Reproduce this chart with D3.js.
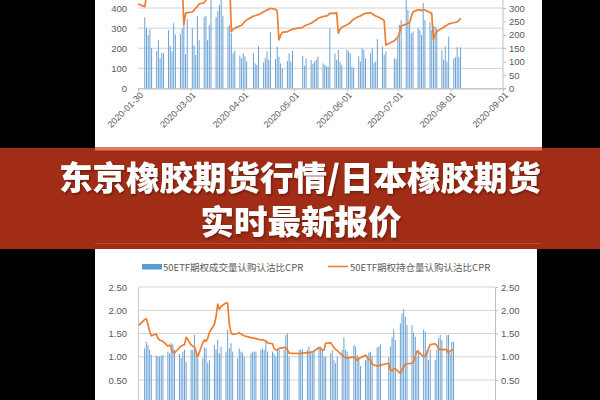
<!DOCTYPE html>
<html><head><meta charset="utf-8">
<script src="https://cdn.jsdelivr.net/npm/d3@7"></script>
<style>html,body{margin:0;padding:0;background:#000;}svg{display:block;}</style>
</head><body>
<svg id="c" width="600" height="400"></svg>
<script>
// ---------- DATA ----------
const title1 = "东京橡胶期货行情/日本橡胶期货";
const title2 = "实时最新报价";
const legendBar = "50ETF期权成交量认购认沽比CPR";
const legendLine = "50ETF期权持仓量认购认沽比CPR";

// trading days (2020), first entry is the axis start (line only)
const tradingDays = ["01-30",
 "02-03","02-04","02-05","02-06","02-07","02-10","02-11","02-12","02-13","02-14","02-17","02-18","02-19","02-20","02-21","02-24","02-25","02-26","02-27","02-28",
 "03-02","03-03","03-04","03-05","03-06","03-09","03-10","03-11","03-12","03-13","03-16","03-17","03-18","03-19","03-20","03-23","03-24","03-25","03-26","03-27","03-30","03-31",
 "04-01","04-02","04-03","04-07","04-08","04-09","04-10","04-13","04-14","04-15","04-16","04-17","04-20","04-21","04-22","04-23","04-24","04-27","04-28","04-29","04-30",
 "05-06","05-07","05-08","05-11","05-12","05-13","05-14","05-15","05-18","05-19","05-20","05-21","05-22","05-25","05-26","05-27","05-28","05-29",
 "06-01","06-02","06-03","06-04","06-05","06-08","06-09","06-10","06-11","06-12","06-15","06-16","06-17","06-18","06-19","06-22","06-23","06-24","06-29","06-30",
 "07-01","07-02","07-03","07-06","07-07","07-08","07-09","07-10","07-13","07-14","07-15","07-16","07-17","07-20","07-21","07-22","07-23","07-24","07-27","07-28","07-29","07-30","07-31",
 "08-03","08-04","08-05","08-06","08-07"];

const topTicks = ["2020-01-30","2020-03-01","2020-04-01","2020-05-01","2020-06-01","2020-07-01","2020-08-01","2020-09-01"];
const topLeftTicks = [0,100,200,300,400];
const topRightTicks = [0,50,100,150,200,250,300];
const botTicks = [0,0.5,1,1.5,2,2.5];

// top chart bars (left axis)
const topBars = [null,
 354,300,265,295,200, 185,240,150,178,175, 290,210,185,325,270, 270,300,310,170,345,
 300,215,167,360,240, 355,360,240,315,445, 355,385,415,450,360, 308,316,275,175,188, 165,150,
 175,160,135, 175,125,118,210, 130,150,185,142,280, 146,208,158,125,100, 137,175,134,188,
 162,113,150, 142,123,134,142,158, 125,118,110,108,300, 175,142,192,134,118,
 192,184,175,109,101, 160,134,200,192,150, 175,200,126,134,245, 208,167,184, 150,145,
 250,316,340, 460,390,325,275,283, 300,290,265,424,340, 330,290,308,310,300, 192,142,208,134,258,
 150,155,205,158,205];

// top chart line (right axis)
const topLine = [315,
 305,345,355,360,365, 370,372,375,378,380, 385,388,390,392,395, 398,400,237,280,283,
 285,292,300,305,315, 320,330,340,345,350, 360,370,375,380,385, 390,395,212,221,225, 233,235,
 243,250,255, 270,271,274,275, 286,289,293,295,299, 295,289,181,199,209, 212,215,218,221,
 228,233,236, 243,247,253,255,262, 268,270,270,274,280, 280,283,206,221,228,
 237,241,245,253,258, 268,270,274,278,280, 283,278,274,270,268, 258,253,162, 178,185,
 191,206,233, 240,243,245,268,286, 293,293,290,293,293, 283,280,183,200,212, 224,228,233,236,241,
 245,247,248,253,262];

// bottom chart bars
const botBars = [null,
 1.18,1.32,1.25,1.15,1.04, 1.02,1.02,1.00,1.02,1.04, 1.11,1.07,1.29,1.27,1.15, 1.06,0.97,1.11,1.15,0.89,
 1.15,1.15,1.47,1.11,0.97, 0.97,1.20,1.18,0.87,0.93, 1.25,1.16,1.37,1.07,1.22, 1.11,1.58,1.18,1.29,1.11, 0.97,1.18,
 1.11,1.09,1.00, 1.07,1.11,1.11,1.11, 1.15,1.18,1.15,1.36,1.11, 1.11,1.07,1.00,1.15,1.15, 1.15,1.47,1.50,1.00,
 1.15,1.15,1.16, 1.15,1.22,1.11,1.07,1.15, 1.20,1.22,1.15,1.00,1.00, 1.07,1.15,0.93,0.86,1.00,
 1.15,1.42,1.15,1.11,1.00, 1.25,1.22,1.04,1.00,0.80, 0.93,1.02,1.09,1.11,1.02, 1.20,1.22,1.27, 1.00,1.22,
 1.42,1.59,1.36, 1.72,1.93,2.02,1.86,1.68, 1.68,1.52,1.43,1.00,1.15, 1.58,1.54,1.15,0.93,1.15, 0.93,1.15,1.40,1.47,1.36,
 1.47,1.47,1.07,1.32,1.32];

// bottom chart line
const botLine = [1.66,
 1.80,1.82,1.70,1.55,1.45, 1.49,1.40,1.36,1.35,1.33, 1.23,1.25,1.20,1.10,1.08, 1.20,1.23,1.25,1.26,1.42,
 1.26,1.22,1.22,1.10,1.00, 1.30,1.36,1.33,1.40,1.52, 1.70,1.86,2.13,2.02,2.08, 2.16,2.15,1.70,1.52,1.48, 1.50,1.52,
 1.49,1.47,1.45, 1.41,1.40,1.40,1.39, 1.36,1.37,1.35,1.34,1.30, 1.28,1.17,1.15,1.15,1.18, 1.20,1.19,1.15,1.08,
 1.07,1.07,1.08, 1.09,1.08,1.10,1.10,1.12, 1.20,1.18,1.15,1.14,1.29, 1.30,1.25,1.20,1.16,1.13,
 1.03,1.00,0.98,0.97,0.98, 0.99,0.97,0.92,0.96,0.98, 1.03,1.00,0.95,0.92,0.84, 0.80,0.81,0.82, 0.86,0.72,
 0.70,0.74,0.74, 0.64,0.72,0.78,0.84,0.85, 0.86,0.90,1.00,1.12,1.10, 1.00,1.03,1.06,1.18,1.26, 1.28,1.24,1.17,1.15,1.16,
 1.15,1.08,1.12,1.15,1.15];

// ---------- DRAW ----------
const parse = d3.timeParse("%Y-%m-%d");
const dates = tradingDays.map(d => parse("2020-" + d));
const svg = d3.select("#c");
const numFont = "'Liberation Sans', Arial, sans-serif";
const cjkFont = "'Noto Sans CJK SC', sans-serif";
const axisCol = "#595959";
const barCol = "#6aa2d4";

svg.append("rect").attr("width",600).attr("height",400).attr("fill","#000");

// panels
svg.append("rect").attr("x",95).attr("y",0).attr("width",447).attr("height",148).attr("fill","#fff");
svg.append("rect").attr("x",95).attr("y",249).attr("width",442).attr("height",151).attr("fill","#fff");

const defs = svg.append("defs");
defs.append("clipPath").attr("id","clipTop").append("rect").attr("x",95).attr("y",0).attr("width",447).attr("height",148);
defs.append("clipPath").attr("id","clipBot").append("rect").attr("x",95).attr("y",249).attr("width",442).attr("height",151);

// ===== top chart =====
const gT = svg.append("g").attr("clip-path","url(#clipTop)");
const xT = d3.scaleTime().domain([parse(topTicks[0]), parse(topTicks[topTicks.length-1])]).range([138,503]);
const yTL = d3.scaleLinear().domain([0,400]).range([88.5,8]);
const yTR = d3.scaleLinear().domain([0,300]).range([88.5,8]);

gT.selectAll(".gt").data(topLeftTicks.concat([500])).join("line")
  .attr("x1",138).attr("x2",503).attr("y1",d=>yTL(d)).attr("y2",d=>yTL(d))
  .attr("stroke","#c8c8c8").attr("stroke-width",0.8);

const tb = dates.map((d,i)=>({d, v: topBars[i]})).filter(o=>o.v!=null);
gT.selectAll(".tb").data(tb).join("rect")
  .attr("x",o=>xT(o.d)-0.5).attr("width",1)
  .attr("y",o=>yTL(o.v)).attr("height",o=>yTL(0)-yTL(o.v))
  .attr("fill",barCol);

gT.append("path").datum(dates.map((d,i)=>({d, v: topLine[i]})))
  .attr("fill","none").attr("stroke","#ed7d31").attr("stroke-width",1.7)
  .attr("stroke-linejoin","round")
  .attr("d", d3.line().x(o=>xT(o.d)).y(o=>yTR(o.v)));

// axes
const axT = gT.append("g").attr("transform","translate(0,88.5)")
  .call(d3.axisBottom(xT).tickValues(topTicks.map(parse)).tickSize(3).tickFormat(d3.timeFormat("%Y-%m-%d")));
axT.select(".domain").attr("stroke","#bfbfbf");
axT.selectAll(".tick line").attr("stroke","#bfbfbf");
axT.selectAll(".tick text").attr("font-family",numFont).attr("font-size",9).attr("fill",axisCol)
  .attr("text-anchor","end").attr("transform","translate(3,5) rotate(-45)").attr("dy","0.35em").attr("y",0).attr("x",0);

const alT = gT.append("g").attr("transform","translate(138,0)")
  .call(d3.axisLeft(yTL).tickValues(topLeftTicks).tickSize(0).tickPadding(11));
alT.select(".domain").remove();
alT.selectAll("text").attr("font-family",numFont).attr("font-size",9.5).attr("fill",axisCol);

const arT = gT.append("g").attr("transform","translate(503,0)")
  .call(d3.axisRight(yTR).tickValues(topRightTicks).tickSize(3).tickPadding(3));
arT.select(".domain").attr("stroke","#bfbfbf").attr("d","M3,88.5H0V-20");
arT.selectAll(".tick line").attr("stroke","#bfbfbf");
arT.selectAll("text").attr("font-family",numFont).attr("font-size",9.5).attr("fill",axisCol);

// ===== banner =====
svg.append("rect").attr("x",0).attr("y",148).attr("width",600).attr("height",101).attr("fill","#a22d16");
svg.append("rect").attr("x",95).attr("y",147).attr("width",447).attr("height",3.5).attr("fill","#e07a62");
svg.append("line").attr("x1",95).attr("x2",541).attr("y1",243.5).attr("y2",243.5).attr("stroke","#b84a34").attr("stroke-width",1);
const sh = defs.append("filter").attr("id","sh").attr("x","-10%").attr("y","-10%").attr("width","120%").attr("height","130%");
sh.append("feDropShadow").attr("dx",1).attr("dy",1.5).attr("stdDeviation",1).attr("flood-color","#3a0a00").attr("flood-opacity",0.6);
const tg = svg.append("g").attr("filter","url(#sh)");
tg.append("text").attr("x",300).attr("y",190).attr("text-anchor","middle")
  .attr("font-family",cjkFont).attr("font-weight",900).attr("font-size",33.5).attr("fill","#fff").text(title1);
tg.append("text").attr("x",301).attr("y",234).attr("text-anchor","middle")
  .attr("font-family",cjkFont).attr("font-weight",900).attr("font-size",33.5).attr("fill","#fff").text(title2);

// ===== bottom chart =====
const gB = svg.append("g").attr("clip-path","url(#clipBot)");
const xB = d3.scaleTime().domain([parse(topTicks[0]), parse(topTicks[topTicks.length-1])]).range([138,495]);
const yB = d3.scaleLinear().domain([0,2.5]).range([403.25,287]);

gB.selectAll(".gb").data(botTicks).join("line")
  .attr("x1",138).attr("x2",495).attr("y1",d=>yB(d)).attr("y2",d=>yB(d))
  .attr("stroke","#c8c8c8").attr("stroke-width",0.8);

const bb = dates.map((d,i)=>({d, v: botBars[i]})).filter(o=>o.v!=null);
gB.selectAll(".bb").data(bb).join("rect")
  .attr("x",o=>xB(o.d)-0.5).attr("width",1)
  .attr("y",o=>yB(o.v)).attr("height",o=>yB(0)-yB(o.v))
  .attr("fill",barCol);

gB.append("path").datum(dates.map((d,i)=>({d, v: botLine[i]})))
  .attr("fill","none").attr("stroke","#ed7d31").attr("stroke-width",1.7)
  .attr("stroke-linejoin","round")
  .attr("d", d3.line().x(o=>xB(o.d)).y(o=>yB(o.v)));

const alB = gB.append("g").attr("transform","translate(138,0)")
  .call(d3.axisLeft(yB).tickValues(botTicks).tickSize(0).tickPadding(11).tickFormat(d3.format(".2f")));
alB.select(".domain").attr("stroke","#c8c8c8");
alB.selectAll("text").attr("font-family",numFont).attr("font-size",9.5).attr("fill",axisCol);

const arB = gB.append("g").attr("transform","translate(495,0)")
  .call(d3.axisRight(yB).tickValues(botTicks).tickSize(3).tickPadding(3).tickFormat(d3.format(".2f")));
arB.select(".domain").attr("stroke","#bfbfbf");
arB.selectAll(".tick line").attr("stroke","#bfbfbf");
arB.selectAll("text").attr("font-family",numFont).attr("font-size",9.5).attr("fill",axisCol);

// legend
svg.append("rect").attr("x",142).attr("y",264).attr("width",20).attr("height",5.5).attr("fill","#5b9bd5");
svg.append("text").attr("x",163).attr("y",270.5).attr("font-family",cjkFont).attr("font-size",9.5).attr("fill",axisCol).text(legendBar);
svg.append("line").attr("x1",328).attr("x2",348).attr("y1",266.5).attr("y2",266.5).attr("stroke","#ed7d31").attr("stroke-width",1.6);
svg.append("text").attr("x",350).attr("y",270.5).attr("font-family",cjkFont).attr("font-size",9.5).attr("fill",axisCol).text(legendLine);
</script>
</body></html>
